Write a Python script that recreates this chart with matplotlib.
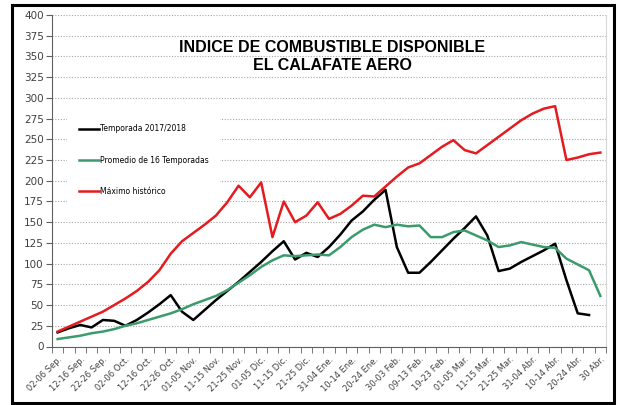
import numpy as np
import matplotlib
matplotlib.use("Agg")
import matplotlib.pyplot as plt
from matplotlib.patches import Rectangle

# etiquetas del eje x (una cada dos periodos de 5 dias)
etiquetas = ["02-06 Sep.", "12-16 Sep.", "22-26 Sep.", "02-06 Oct.", "12-16 Oct.",
             "22-26 Oct.", "01-05 Nov.", "11-15 Nov.", "21-25 Nov.", "01-05 Dic.",
             "11-15 Dic.", "21-25 Dic.", "31-04 Ene.", "10-14 Ene.", "20-24 Ene.",
             "30-03 Feb.", "09-13 Feb.", "19-23 Feb.", "01-05 Mar.", "11-15 Mar.",
             "21-25 Mar.", "31-04 Abr.", "10-14 Abr.", "20-24 Abr.", "30 Abr."]

temporada = [17, 22, 26, 23, 32, 31, 25, 32, 41, 51, 62, 42, 32, 44, 56, 67, 78,
             90, 102, 115, 127, 105, 113, 108, 120, 135, 152, 163, 177, 189, 120,
             89, 89, 102, 116, 130, 143, 157, 134, 91, 94, 102, 109, 116, 124, 80,
             40, 38]

promedio = [9, 11, 13, 16, 18, 21, 25, 28, 32, 36, 40, 45, 51, 56, 61, 68, 77,
            86, 96, 104, 110, 109, 110, 111, 110, 120, 132, 141, 147, 144, 147,
            145, 146, 132, 132, 138, 140, 134, 128, 120, 122, 126, 123, 120, 119,
            106, 99, 92, 61]

maximo = [18, 24, 30, 36, 42, 50, 58, 67, 78, 92, 112, 127, 137, 147, 158, 174,
          194, 180, 198, 132, 175, 150, 158, 174, 154, 160, 170, 182, 181, 193,
          205, 216, 221, 231, 241, 249, 237, 233, 243, 253, 263, 273, 281, 287,
          290, 225, 228, 232, 234]

n = len(maximo)
x = np.arange(n)

fig = plt.figure(figsize=(6.2, 4.05), dpi=100)
ax = fig.add_axes([52/620, 1-346.5/405, (606-52)/620, (346.5-15)/405])

ax.plot(x[:len(temporada)], temporada, color="black", lw=1.8, label="Temporada 2017/2018")
ax.plot(x, promedio, color="#3c9b6c", lw=1.8, label="Promedio de 16 Temporadas")
ax.plot(x, maximo, color="#e41b1f", lw=1.8, label="Máximo histórico")

ax.set_xlim(-0.5, n-0.5)
ax.set_ylim(0, 400)
ax.set_yticks(np.arange(0, 401, 25))
ax.yaxis.grid(True, color="#a8a8a8", ls=(0, (1, 1.5)), lw=0.8)
ax.set_axisbelow(True)

# etiquetas en los periodos pares, marcas en los limites de cada periodo
ax.set_xticks(x[::2])
ax.set_xticklabels(etiquetas, rotation=45, ha="right", va="top",
                   rotation_mode="anchor", fontsize=6, color="#404040")
ax.set_xticks(np.arange(-0.5, n, 1), minor=True)
ax.tick_params(axis="x", which="major", length=0, pad=6)
ax.tick_params(axis="x", which="minor", length=4, color="#606060", direction="out")
ax.tick_params(axis="y", length=4, color="#606060", labelsize=7.5, labelcolor="#404040", pad=2)

ax.spines["top"].set_visible(False)
ax.spines["right"].set_color("#d8d8d8")
ax.spines["left"].set_color("#606060")
ax.spines["bottom"].set_color("#606060")

ax.text(0.5 + 3/554, 0.925, "INDICE DE COMBUSTIBLE DISPONIBLE\nEL CALAFATE AERO",
        transform=ax.transAxes, ha="center", va="top", fontsize=11.5,
        fontweight="bold", family="Liberation Sans", linespacing=1.3)

leg = ax.legend(loc="upper left", bbox_to_anchor=(0.021, 0.716), fontsize=5.5,
                frameon=True, facecolor="white", edgecolor="none", framealpha=1,
                fancybox=False, handlelength=2.6, handletextpad=0.15,
                labelspacing=2.9, borderpad=1.5)

# marco negro alrededor de la figura
fig.patches.append(Rectangle((12/620, 2/405), 602/620, 398/405, transform=fig.transFigure,
                             fill=False, edgecolor="black", lw=2.2))

fig.savefig("out.png", dpi=100)
